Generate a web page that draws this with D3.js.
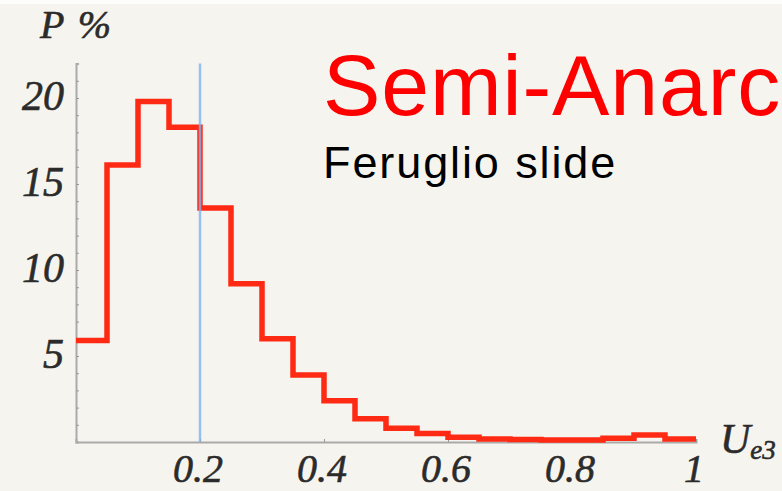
<!DOCTYPE html>
<html>
<head>
<meta charset="utf-8">
<script src="https://cdn.jsdelivr.net/npm/d3@7"></script>
<style>
  html, body { margin: 0; padding: 0; background: #f6f4ee; overflow: hidden; }
  svg { display: block; }
  .lab { font-family: "Liberation Serif", "DejaVu Serif", serif; font-style: italic; fill: #2b2b2b; stroke: #2b2b2b; stroke-width: 0.6; }
</style>
</head>
<body>
<svg id="plot"></svg>
<script>
// histogram of U_e3 in bins of 0.05 (P in %)
const binWidth = 0.05;
const pct = [5.9, 16.1, 19.8, 18.3, 13.6, 9.2, 6.0, 3.9, 2.4, 1.35,
             0.8, 0.5, 0.28, 0.18, 0.15, 0.12, 0.12, 0.22, 0.4, 0.18];
const markerU = 0.2;
const yTicks = [5, 10, 15, 20];
const xTicks = [0.2, 0.4, 0.6, 0.8, 1];
const xTickLabels = ["0.2", "0.4", "0.6", "0.8", "1"];

const W = 782, H = 491;
const svg = d3.select("#plot").attr("width", W).attr("height", H);

svg.append("rect").attr("width", W).attr("height", H).attr("fill", "#f6f4ee");
svg.append("rect").attr("width", W).attr("height", 4).attr("fill", "#fdfdfb");

const x = d3.scaleLinear().domain([0, 1]).range([76, 696]);
const y = d3.scaleLinear().domain([0, 22]).range([442, 63.6]);

// y axis with small inward minor ticks
const yAxis = svg.append("g")
    .attr("transform", "translate(" + x(0) + ",0)")
    .call(d3.axisRight(y).tickValues(d3.range(1, 22)).tickSize(3).tickFormat(""));
yAxis.select(".domain").attr("stroke", "#aaa").attr("stroke-width", 2);
yAxis.selectAll(".tick line").attr("stroke", "#999").attr("stroke-width", 1);

svg.append("g").selectAll("text")
  .data(yTicks).join("text")
    .attr("class", "lab")
    .attr("x", 64)
    .attr("y", d => y(d) + 12)
    .attr("text-anchor", "end")
    .attr("font-size", 42)
    .text(d => d);

// x axis
const xAxis = svg.append("g")
    .attr("transform", "translate(0," + y(0) + ")")
    .call(d3.axisTop(x).tickValues(xTicks).tickSize(3).tickFormat(""));
xAxis.select(".domain").attr("stroke", "#aaa").attr("stroke-width", 2);
xAxis.selectAll(".tick line").attr("stroke", "#999");

svg.append("g").selectAll("text")
  .data(xTicks).join("text")
    .attr("class", "lab")
    .attr("x", d => x(d) - 2)
    .attr("y", 482)
    .attr("text-anchor", "middle")
    .attr("font-size", 40)
    .text((d, i) => xTickLabels[i]);

// axis titles
svg.append("text").attr("class", "lab")
    .attr("x", 40).attr("y", 38).attr("font-size", 40)
    .attr("letter-spacing", 2)
    .text("P %");
const ut = svg.append("text").attr("class", "lab")
    .attr("x", 720).attr("y", 453).attr("font-size", 42);
ut.append("tspan").text("U");
ut.append("tspan").attr("font-size", 27).attr("dy", 6).text("e3");

// histogram outline
const pts = pct.map((v, i) => [i * binWidth, v]);
pts.push([pct.length * binWidth, pct[pct.length - 1]]);
const line = d3.line()
    .x(d => x(d[0]))
    .y(d => y(d[1]))
    .curve(d3.curveStepAfter);

svg.append("path")
    .datum(pts)
    .attr("d", line)
    .attr("fill", "none")
    .attr("stroke", "#ff2a14")
    .attr("stroke-width", 5.5)
    .attr("stroke-linejoin", "miter");

// marker line at U_e3 = 0.2
svg.append("line")
    .attr("x1", x(markerU)).attr("x2", x(markerU))
    .attr("y1", y(22)).attr("y2", y(0))
    .attr("stroke", "#7fb2f0")
    .attr("stroke-opacity", 0.8)
    .attr("stroke-width", 2.5);

// slide texts
svg.append("text")
    .attr("x", 323).attr("y", 115)
    .attr("font-family", "Liberation Sans, Arial, sans-serif")
    .attr("font-size", 86)
    .attr("letter-spacing", 0.9)
    .attr("fill", "#ff0000")
    .text("Semi-Anarc");
svg.append("text")
    .attr("x", 323).attr("y", 178)
    .attr("font-family", "Liberation Sans, Arial, sans-serif")
    .attr("font-size", 45)
    .attr("letter-spacing", 1.9)
    .attr("fill", "#000")
    .text("Feruglio slide");
</script>
</body>
</html>
